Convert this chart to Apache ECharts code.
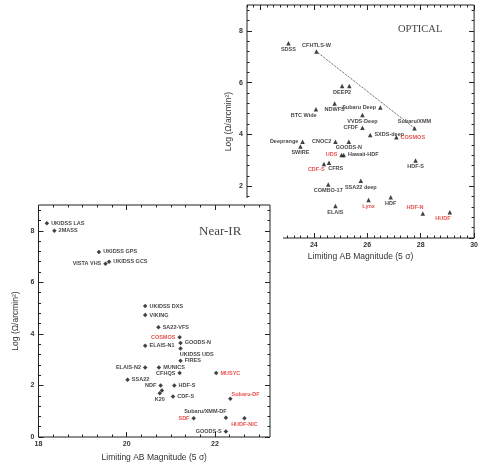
<!DOCTYPE html>
<html><head><meta charset="utf-8">
<script src="https://cdn.jsdelivr.net/npm/echarts@6/dist/echarts.min.js"></script>
<style>
html,body{margin:0;padding:0;background:#fff;}
#opt{position:absolute;left:0;top:0;width:481px;height:468px;}
#nir{position:absolute;left:0;top:198px;width:283px;height:270px;background:#fff;}
</style></head><body>
<div id="opt"></div><div id="nir"></div>
<script>
// ---------- OPTICAL panel data ----------
const optBlackNames = ['SDSS','CFHTLS-W','DEEP2','','NDWFS','BTC Wide','Subaru Deep','VVDS-Deep','CFDF','SXDS-deep','Subaru/XMM','Deeprange','CNOC2','GOODS-N','SWIRE','Hawaii-HDF','CFRS','HDF-S','COMBO-17','SSA22 deep','HDF','ELAIS'];
const optBlackMag = [23.05,24.10,25.06,25.33,24.78,24.08,26.49,25.82,25.82,26.11,27.77,23.58,24.81,25.31,23.50,25.12,24.57,27.81,24.54,25.76,26.88,24.81];
const optBlackLog = [7.52,7.20,5.87,5.87,5.20,4.97,5.04,4.75,4.26,3.98,4.24,3.72,3.72,3.72,3.53,3.21,2.91,2.99,2.07,2.21,1.57,1.24];
const optRedNames = ['COSMOS','UDS','CDF-S','Lynx','HDF-N','HUDF'];
const optRedMag = [27.09,25.04,24.38,26.05,28.08,29.09];
const optRedLog = [3.89,3.21,2.86,1.47,0.95,0.99];
const optLineEnds = ['CFHTLS-W','Subaru/XMM'];
const optXLabels = [24,26,28,30];
const optXMajor = [22,24,26,28,30];
const optYLabels = [2,4,6,8];
const optYMajor = [0,2,4,6,8];

// ---------- NEAR-IR panel data ----------
const nirBlackNames = ['UKIDSS LAS','2MASS','UKIDSS GPS','UKIDSS GCS','VISTA VHS','UKIDSS DXS','VIKING','SA22-VFS','ELAIS-N1','GOODS-N','UKIDSS UDS','FIRES','ELAIS-N2','MUNICS','CFHQS','SSA22','NDF','HDF-S','','K20','CDF-S','Subaru/XMM-DF','GOODS-S'];
const nirBlackMag = [18.19,18.36,19.37,19.60,19.52,20.42,20.42,20.72,20.42,21.22,21.22,21.22,20.42,20.73,21.20,20.02,20.77,21.08,20.80,20.75,21.05,22.25,22.25];
const nirBlackLog = [8.29,8.00,7.18,6.80,6.72,5.08,4.73,4.26,3.54,3.65,3.43,2.96,2.70,2.70,2.48,2.22,2.00,2.00,1.80,1.70,1.57,0.75,0.21];
const nirRedNames = ['COSMOS','MUSYC','Subaru-DF','SDF','HUDF-NIC'];
const nirRedMag = [21.20,22.03,22.35,21.52,22.67];
const nirRedLog = [3.87,2.48,1.48,0.73,0.73];
const nirXLabels = [18,20,22];
const nirXMajor = [18,20,22];
const nirYLabels = [0,2,4,6,8];
const nirYMajor = [0,2,4,6,8];

const xTitle = 'Limiting AB Magnitude (5 σ)';
const yTitle = 'Log (Ω/arcmin²)';

// ---------- label placement (style) ----------
const optPlace = {'SDSS':'b','CFHTLS-W':'t','DEEP2':'b','NDWFS':'b','BTC Wide':'bl','Subaru Deep':'l','VVDS-Deep':'b','CFDF':'l','SXDS-deep':'r','Subaru/XMM':'t','Deeprange':'l','CNOC2':'l','GOODS-N':'b','SWIRE':'b','Hawaii-HDF':'r','CFRS':'br','HDF-S':'b','COMBO-17':'b','SSA22 deep':'b','HDF':'b','ELAIS':'b','COSMOS':'r','UDS':'l','CDF-S':'bl','Lynx':'b','HDF-N':'tl','HUDF':'bl'};
const nirPlace = {'UKIDSS LAS':'r','2MASS':'r','UKIDSS GPS':'r','UKIDSS GCS':'r','VISTA VHS':'l','UKIDSS DXS':'r','VIKING':'r','SA22-VFS':'r','ELAIS-N1':'r','GOODS-N':'r','UKIDSS UDS':'br','FIRES':'r','ELAIS-N2':'l','MUNICS':'r','CFHQS':'l','SSA22':'r','NDF':'l','HDF-S':'r','K20':'b','CDF-S':'r','Subaru/XMM-DF':'tl','GOODS-S':'l','COSMOS':'l','MUSYC':'r','Subaru-DF':'tr','SDF':'l','HUDF-NIC':'b'};

const FONT = 'Liberation Sans';
const SERIF = 'Liberation Serif';
const RED = '#e0261f';
const INK = '#111';

function placement(code){
  switch(code){
    case 'r': return {position:'right', distance:2};
    case 'l': return {position:'left', distance:2};
    case 't': return {position:'top', distance:1};
    case 'b': return {position:'bottom', distance:1};
    case 'bl': return {position:'left', distance:1, offset:[4,6]};
    case 'br': return {position:'right', distance:1, offset:[-4,6]};
    case 'tl': return {position:'left', distance:1, offset:[4,-6]};
    case 'tr': return {position:'right', distance:1, offset:[-2,-4]};
  }
  return {position:'right', distance:2};
}
function pts(names, mags, logs, place){
  return names.map((n,i)=>({name:n, value:[mags[i],logs[i]],
    label:Object.assign({show:n!==''}, placement(place[n]))}));
}
function steps(min,max,step,skip){
  const out=[]; const n=Math.round((max-min)/step);
  for(let k=0;k<=n;k++){const v=+(min+k*step).toFixed(4); if(!skip.some(s=>Math.abs(s-v)<1e-6)) out.push(v);}
  return out;
}
function axisSet(kind, min, max, labels, majors, minors, name, nameGap){
  const common = {type:'value', gridIndex:0, min:min, max:max, splitLine:{show:false},
    axisLine:{show:false, onZero:false}};
  const side = kind==='x' ? ['bottom','top'] : ['left','right'];
  const tick = (vals,len)=>({show:true, customValues:vals, inside:true, length:len, lineStyle:{color:'#222', width:1}});
  return [
    Object.assign({}, common, {position:side[0], name:name, nameLocation:'middle', nameGap:nameGap,
      nameTextStyle:{fontFamily:FONT, fontSize:8.5, color:'#333'},
      axisLabel:{show:true, customValues:labels, margin:4, fontFamily:FONT, fontSize:7, fontWeight:'bold', color:'#333'},
      axisTick:tick(majors,5)}),
    Object.assign({}, common, {position:side[0], axisLabel:{show:false}, axisTick:tick(minors,2.5)}),
    Object.assign({}, common, {position:side[1], axisLabel:{show:false}, axisTick:tick(majors,5)}),
    Object.assign({}, common, {position:side[1], axisLabel:{show:false}, axisTick:tick(minors,2.5)})
  ];
}
function scatter(data, color, symbol){
  return {type:'scatter', xAxisIndex:0, yAxisIndex:0, data:data, symbol:symbol, symbolSize:4.5,
    itemStyle:{color:INK}, z:3,
    label:{show:true, formatter:'{b}', fontFamily:FONT, fontSize:5.5, fontWeight:'bold', color:color}};
}

// ---------- OPTICAL chart ----------
const optChart = echarts.init(document.getElementById('opt'), null, {renderer:'canvas'});
const iA = optBlackNames.indexOf(optLineEnds[0]), iB = optBlackNames.indexOf(optLineEnds[1]);
optChart.setOption({
  animation:false,
  title:{text:'OPTICAL', left:393, top:19, textStyle:{fontFamily:SERIF, fontSize:10.5, fontWeight:'normal', color:'#444'}},
  grid:{left:247, top:5, width:231, height:233, show:true, borderColor:'#222', borderWidth:1, containLabel:false},
  xAxis:axisSet('x', 21.5, 30, optXLabels, optXMajor, steps(21.5,30,0.25,optXMajor), xTitle, 14),
  yAxis:axisSet('y', 0, 9, optYLabels, optYMajor, steps(0,9,0.4,optYMajor), yTitle, 14),
  series:[
    {type:'line', data:[[optBlackMag[iA],optBlackLog[iA]],[optBlackMag[iB],optBlackLog[iB]]],
      symbol:'none', lineStyle:{type:'dotted', width:1, color:'#444'}, z:2},
    scatter(pts(optBlackNames,optBlackMag,optBlackLog,optPlace), INK, 'triangle'),
    scatter(pts(optRedNames,optRedMag,optRedLog,optPlace), RED, 'triangle')
  ]
});

// ---------- NEAR-IR chart ----------
const nirChart = echarts.init(document.getElementById('nir'), null, {renderer:'canvas'});
nirChart.setOption({
  animation:false,
  backgroundColor:'#fff',
  title:{text:'Near-IR', left:194, top:22, textStyle:{fontFamily:SERIF, fontSize:13, fontWeight:'normal', color:'#444'}},
  grid:{left:38.5, top:7, width:231.5, height:232, show:true, borderColor:'#222', borderWidth:1, containLabel:false},
  xAxis:axisSet('x', 18, 23.25, nirXLabels, nirXMajor, steps(18,23.25,1/3,nirXMajor), xTitle, 14),
  yAxis:axisSet('y', 0, 9, nirYLabels, nirYMajor, steps(0,9,0.4,nirYMajor), yTitle, 15),
  series:[
    scatter(pts(nirBlackNames,nirBlackMag,nirBlackLog,nirPlace), INK, 'diamond'),
    scatter(pts(nirRedNames,nirRedMag,nirRedLog,nirPlace), RED, 'diamond')
  ]
});
</script>
</body></html>
